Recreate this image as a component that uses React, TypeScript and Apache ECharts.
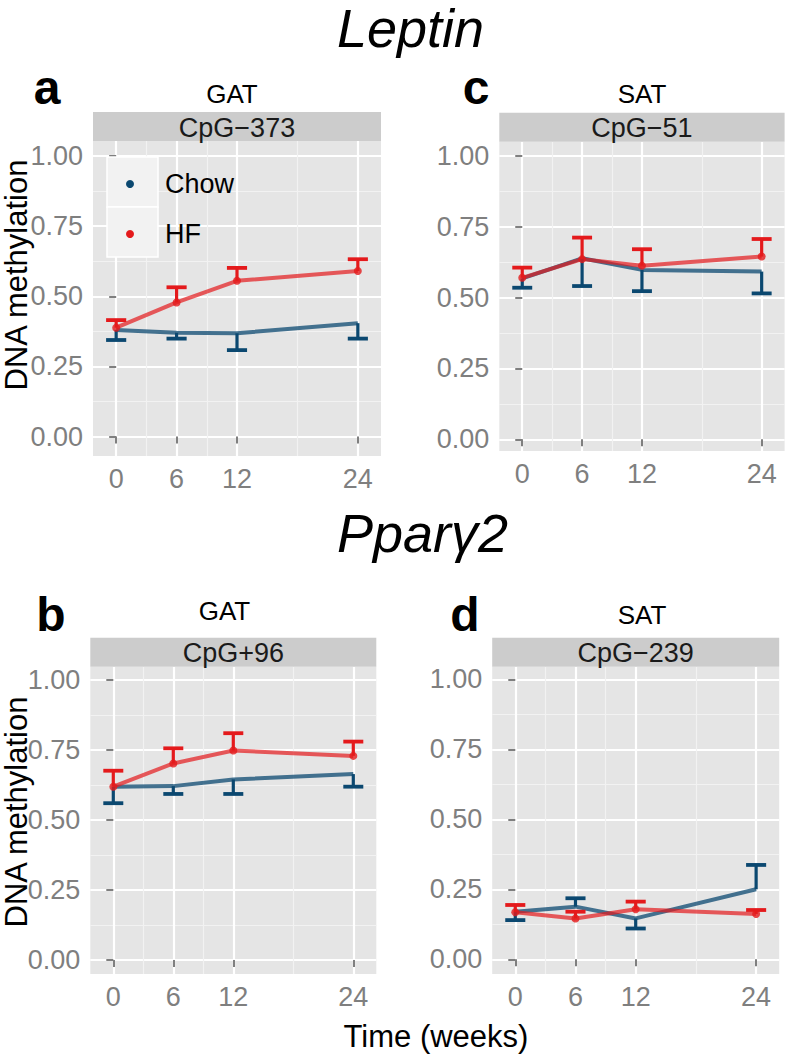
import React, { useEffect, useRef } from "react";
import * as echarts from "echarts";

// ---------- data ----------
const weeks = [0, 6, 12, 24];
const xTickValues = [0, 6, 12, 24];
const xMinorValues = [3, 9, 18];
const yTickValues = [0, 0.25, 0.5, 0.75, 1];
const yMinorValues = [0.125, 0.375, 0.625, 0.875];
const groups = ["Chow", "HF"];

// Leptin, GAT, CpG-373 (panel a)
const aChow = [0.38, 0.37, 0.368, 0.404];
const aChowBar = [0.344, 0.349, 0.308, 0.349];
const aHF = [0.388, 0.478, 0.555, 0.59];
const aHFBar = [0.415, 0.532, 0.601, 0.632];

// Leptin, SAT, CpG-51 (panel c)
const cChow = [0.568, 0.639, 0.598, 0.592];
const cChowBar = [0.535, 0.541, 0.523, 0.515];
const cHF = [0.57, 0.636, 0.613, 0.645];
const cHFBar = [0.606, 0.712, 0.671, 0.707];

// Ppary2, GAT, CpG+96 (panel b)
const bChow = [0.619, 0.621, 0.645, 0.664];
const bChowBar = [0.56, 0.593, 0.593, 0.619];
const bHF = [0.619, 0.702, 0.748, 0.729];
const bHFBar = [0.676, 0.756, 0.81, 0.78];

// Ppary2, SAT, CpG-239 (panel d)
const dChow = [0.17, 0.188, 0.146, 0.25];
const dChowBar = [0.14, 0.218, 0.11, 0.337];
const dHF = [0.168, 0.146, 0.179, 0.162];
const dHFBar = [0.194, 0.17, 0.206, 0.176];

const panelData = [
  { letter: "a", tissue: "GAT", cpg: "CpG\u2212373", chow: aChow, chowBar: aChowBar, hf: aHF, hfBar: aHFBar },
  { letter: "c", tissue: "SAT", cpg: "CpG\u221251", chow: cChow, chowBar: cChowBar, hf: cHF, hfBar: cHFBar },
  { letter: "b", tissue: "GAT", cpg: "CpG+96", chow: bChow, chowBar: bChowBar, hf: bHF, hfBar: bHFBar },
  { letter: "d", tissue: "SAT", cpg: "CpG\u2212239", chow: dChow, chowBar: dChowBar, hf: dHF, hfBar: dHFBar },
];

// ---------- layout (pixels) ----------
const layouts = [
  { left: 93, top: 141, width: 288, height: 315, yMin: -0.0695, yMax: 1.0535, tissueX: 232, tissueY: 94, letterX: 47, letterY: 87 },
  { left: 499.3, top: 141.7, width: 285.3, height: 309.3, yMin: -0.0413, yMax: 1.0505, tissueX: 642, tissueY: 94, letterX: 476, letterY: 87 },
  { left: 90.3, top: 666.7, width: 286, height: 307.3, yMin: -0.05, yMax: 1.0475, tissueX: 224.5, tissueY: 611, letterX: 51, letterY: 614 },
  { left: 492.2, top: 666.7, width: 287, height: 307.3, yMin: -0.0525, yMax: 1.045, tissueX: 642, tissueY: 615, letterX: 465, letterY: 614 },
];
const STRIP_H = 29;
const X_MIN = -2.3;
const X_MAX = 26.3;

const RED = "#E41A1C";
const BLUE = "#0B4870";
const FONT = "'Liberation Sans', Arial, Helvetica, sans-serif";

function errorBarSeries(color: string, means: number[], ends: number[], xi: number, yi: number, name: string) {
  return {
    type: "custom",
    name,
    coordinateSystem: "cartesian2d",
    xAxisIndex: xi,
    yAxisIndex: yi,
    z: 4,
    encode: { x: 0, y: [1, 2] },
    data: weeks.map((w, i) => [w, means[i], ends[i]]),
    renderItem: (params: any, api: any) => {
      const x = api.value(0);
      const m = api.value(1);
      const e = api.value(2);
      const p0 = api.coord([x, m]);
      const p1 = api.coord([x, e]);
      const pl = api.coord([x - 1, e]);
      const pr = api.coord([x + 1, e]);
      return {
        type: "group",
        children: [
          { type: "line", shape: { x1: p0[0], y1: p0[1], x2: p1[0], y2: p1[1] }, style: { stroke: color, lineWidth: 3.2 } },
          { type: "line", shape: { x1: pl[0], y1: pl[1], x2: pr[0], y2: pr[1] }, style: { stroke: color, lineWidth: 3.8 } },
        ],
      };
    },
  };
}

export default function App() {
  const ref = useRef<HTMLDivElement>(null);

  useEffect(() => {
    document.body.style.margin = "0";
    const chart = echarts.init(ref.current!, null, { renderer: "svg" });

    const grid: any[] = [];
    const xAxis: any[] = [];
    const yAxis: any[] = [];
    const series: any[] = [];
    const graphic: any[] = [];

    layouts.forEach((L, i) => {
      const P = panelData[i];
      grid.push({
        left: L.left,
        top: L.top,
        width: L.width,
        height: L.height,
        show: true,
        backgroundColor: "#E5E5E5",
        borderWidth: 0,
      });
      // minor x
      xAxis.push({
        type: "value",
        gridIndex: i,
        position: "bottom",
        min: X_MIN,
        max: X_MAX,
        axisLine: { show: false },
        axisTick: { show: false, customValues: xMinorValues },
        axisLabel: { show: false, customValues: xMinorValues },
        splitLine: { show: true, lineStyle: { color: "#F2F2F2", width: 1.2 } },
      });
      // major x
      xAxis.push({
        type: "value",
        gridIndex: i,
        position: "bottom",
        min: X_MIN,
        max: X_MAX,
        axisLine: { show: false },
        axisTick: { show: true, customValues: xTickValues, length: 7, lineStyle: { color: "#7F7F7F", width: 2 } },
        axisLabel: { show: true, customValues: xTickValues, color: "#7F7F7F", fontSize: 27, fontFamily: FONT, margin: 9 },
        splitLine: { show: true, lineStyle: { color: "#FFFFFF", width: 2.2 } },
      });
      // minor y
      yAxis.push({
        type: "value",
        gridIndex: i,
        position: "left",
        min: L.yMin,
        max: L.yMax,
        axisLine: { show: false },
        axisTick: { show: false, customValues: yMinorValues },
        axisLabel: { show: false, customValues: yMinorValues },
        splitLine: { show: true, lineStyle: { color: "#F2F2F2", width: 1.2 } },
      });
      // major y
      yAxis.push({
        type: "value",
        gridIndex: i,
        position: "left",
        min: L.yMin,
        max: L.yMax,
        axisLine: { show: false },
        axisTick: { show: true, customValues: yTickValues, length: 7, lineStyle: { color: "#7F7F7F", width: 2 } },
        axisLabel: {
          show: true,
          customValues: yTickValues,
          color: "#7F7F7F",
          fontSize: 27,
          fontFamily: FONT,
          margin: 10,
          formatter: (v: number) => v.toFixed(2),
        },
        splitLine: { show: true, lineStyle: { color: "#FFFFFF", width: 2.2 } },
      });

      const xi = 2 * i + 1;
      const yi = 2 * i + 1;
      series.push({
        type: "line",
        name: groups[0],
        xAxisIndex: xi,
        yAxisIndex: yi,
        z: 2,
        symbol: "none",
        data: weeks.map((w, k) => [w, P.chow[k]]),
        lineStyle: { color: BLUE, width: 4, opacity: 0.75 },
      });
      series.push({
        type: "line",
        name: groups[1],
        xAxisIndex: xi,
        yAxisIndex: yi,
        z: 3,
        symbol: "none",
        data: weeks.map((w, k) => [w, P.hf[k]]),
        lineStyle: { color: RED, width: 4, opacity: 0.7 },
      });
      series.push(errorBarSeries(BLUE, P.chow, P.chowBar, xi, yi, groups[0]));
      series.push(errorBarSeries(RED, P.hf, P.hfBar, xi, yi, groups[1]));
      series.push({
        type: "scatter",
        name: groups[1],
        xAxisIndex: xi,
        yAxisIndex: yi,
        z: 5,
        symbol: "circle",
        symbolSize: 8,
        itemStyle: { color: RED },
        data: weeks.map((w, k) => [w, P.hf[k]]),
      });

      // strip
      graphic.push({
        type: "rect",
        shape: { x: L.left, y: L.top - STRIP_H, width: L.width, height: STRIP_H },
        style: { fill: "#CCCCCC" },
        z: 10,
      });
      graphic.push({
        type: "text",
        x: L.left + L.width / 2,
        y: L.top - STRIP_H / 2 + 1,
        style: { text: P.cpg, fill: "#1A1A1A", fontSize: 27, fontFamily: FONT, align: "center", verticalAlign: "middle" },
        z: 11,
      });
      graphic.push({
        type: "text",
        x: L.tissueX,
        y: L.tissueY,
        style: { text: P.tissue, fill: "#000000", fontSize: 26, fontFamily: FONT, align: "center", verticalAlign: "middle" },
        z: 11,
      });
      graphic.push({
        type: "text",
        x: L.letterX,
        y: L.letterY,
        style: { text: P.letter, fill: "#000000", fontSize: 48, fontWeight: "bold", fontFamily: FONT, align: "center", verticalAlign: "middle" },
        z: 11,
      });
    });

    // gene titles
    graphic.push({
      type: "text",
      x: 337,
      y: 1,
      style: { text: "Leptin", fill: "#000", fontSize: 54, fontStyle: "italic", fontFamily: FONT, align: "left", verticalAlign: "top" },
      z: 11,
    });
    graphic.push({
      type: "text",
      x: 337,
      y: 533,
      style: { text: "Ppar\u03b32", fill: "#000", fontSize: 54, lineHeight: 54, fontStyle: "italic", fontFamily: FONT, align: "left", verticalAlign: "middle" },
      z: 11,
    });

    // y-axis titles
    [275, 812].forEach((cy) => {
      graphic.push({
        type: "text",
        x: 16,
        y: cy,
        rotation: Math.PI / 2,
        style: { text: "DNA methylation", fill: "#000", fontSize: 31, lineHeight: 30, fontFamily: FONT, align: "center", verticalAlign: "middle" },
        z: 11,
      });
    });
    // x-axis title
    graphic.push({
      type: "text",
      x: 436,
      y: 1036,
      style: { text: "Time (weeks)", fill: "#000", fontSize: 31, fontFamily: FONT, align: "center", verticalAlign: "middle" },
      z: 11,
    });

    // legend (inside panel a)
    const lgX = 107;
    const lgY = 157;
    const keyW = 51;
    const keyH = 50;
    const legendColors = [BLUE, RED];
    groups.forEach((g, k) => {
      graphic.push({
        type: "rect",
        shape: { x: lgX, y: lgY + k * keyH, width: keyW, height: keyH },
        style: { fill: "#F2F2F2", stroke: "#FFFFFF", lineWidth: 1.5 },
        z: 20,
      });
      graphic.push({
        type: "circle",
        shape: { cx: lgX + 23, cy: lgY + k * keyH + 27, r: 4 },
        style: { fill: legendColors[k] },
        z: 21,
      });
      graphic.push({
        type: "text",
        x: lgX + 58,
        y: lgY + k * keyH + 27,
        style: { text: g, fill: "#000", fontSize: 27, fontFamily: FONT, align: "left", verticalAlign: "middle" },
        z: 21,
      });
    });

    chart.setOption({
      animation: false,
      backgroundColor: "#FFFFFF",
      grid,
      xAxis,
      yAxis,
      series,
      graphic,
    });

    return () => chart.dispose();
  }, []);

  return <div ref={ref} style={{ width: 787, height: 1054 }} />;
}
